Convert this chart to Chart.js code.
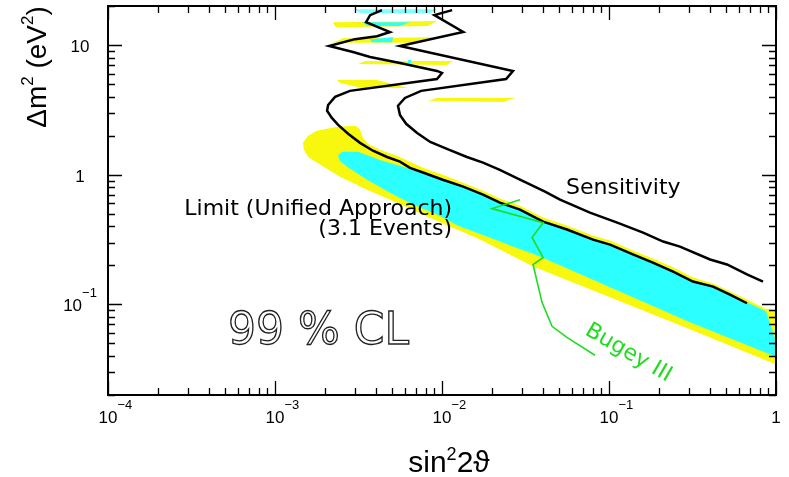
<!DOCTYPE html>
<html>
<head>
<meta charset="utf-8">
<script src="https://cdn.jsdelivr.net/npm/chart.js@4"></script>
<style>
  html, body { margin: 0; padding: 0; background: #fff; }
</style>
</head>
<body>
<canvas id="chart" width="789" height="477"></canvas>
<script>
// axis ranges and labels
const xMin = 1e-4, xMax = 1;
const yMin = 0.02, yMax = 20;
const xTickValues = [1e-4, 1e-3, 1e-2, 1e-1, 1];
const xTickLabels = [['10', '−4'], ['10', '−3'], ['10', '−2'], ['10', '−1'], ['1', '']];
const yTickValues = [10, 1, 0.1];
const yTickLabels = [['10', ''], ['1', ''], ['10', '−1']];

// curves as [sin^2 2theta, dm^2 (eV^2)]
const sensitivity = [
    [0.0115, 18.6], [0.0090, 17.0], [0.0134, 12.6], [0.0056, 9.83], [0.0266, 6.31], [0.0242, 5.47],
    [0.0075, 4.43], [0.0060, 3.91], [0.00545, 3.40], [0.0056, 2.89], [0.0061, 2.47], [0.0071, 2.10],
    [0.0085, 1.79], [0.0107, 1.58], [0.0141, 1.37], [0.0176, 1.24], [0.0222, 1.09], [0.0293, 0.915],
    [0.0414, 0.740], [0.0509, 0.642], [0.0769, 0.510], [0.112, 0.427], [0.160, 0.358], [0.211, 0.305],
    [0.266, 0.279], [0.403, 0.222], [0.509, 0.203], [0.670, 0.170], [0.836, 0.150]
];
const limit = [
    [0.00437, 18.6], [0.00371, 17.0], [0.00351, 15.0], [0.00488, 12.6], [0.00408, 11.7], [0.00301, 11.1],
    [0.00211, 9.83], [0.00293, 8.84], [0.00371, 8.09], [0.0056, 7.27], [0.00933, 6.31], [0.0100, 6.09],
    [0.00933, 5.47], [0.00281, 4.43], [0.00229, 3.98], [0.00208, 3.45], [0.00205, 3.11], [0.00219, 2.74],
    [0.00238, 2.43], [0.00274, 2.07], [0.00323, 1.76], [0.00386, 1.53], [0.00469, 1.37], [0.0056, 1.26],
    [0.00643, 1.13], [0.00769, 1.04], [0.0101, 0.915], [0.0134, 0.809], [0.0176, 0.702], [0.0222, 0.609],
    [0.0293, 0.538], [0.0403, 0.435], [0.0560, 0.378], [0.0802, 0.316], [0.1014, 0.289], [0.139, 0.243],
    [0.183, 0.210], [0.242, 0.179], [0.318, 0.150], [0.420, 0.137], [0.530, 0.119], [0.670, 0.102]
];
const bugey = [
    [0.0293, 0.642], [0.0199, 0.548], [0.0403, 0.427], [0.0346, 0.328], [0.0403, 0.230], [0.0351, 0.203],
    [0.0397, 0.1036], [0.0456, 0.0677], [0.0560, 0.0557], [0.0824, 0.0405]
];
// 99% CL region (yellow) and 90% CL region (cyan), closed outlines
const band99 = [
    [0.00147, 1.76], [0.00158, 2.00], [0.00178, 2.18], [0.00235, 2.34], [0.00305, 2.38], [0.00323, 2.22],
    [0.00336, 1.93], [0.00360, 1.73], [0.00425, 1.56], [0.00538, 1.40], [0.00643, 1.26], [0.00769, 1.13],
    [0.0101, 1.00], [0.0134, 0.868], [0.0176, 0.753], [0.0222, 0.654], [0.0293, 0.577], [0.0403, 0.467],
    [0.0560, 0.405], [0.0802, 0.340], [0.1014, 0.311], [0.139, 0.260], [0.183, 0.226], [0.242, 0.193],
    [0.318, 0.161], [0.420, 0.145], [0.530, 0.126], [0.670, 0.109], [0.859, 0.0931], [1.06, 0.0884],
    [1.06, 0.0334], [0.305, 0.0642], [0.0351, 0.196], [0.0222, 0.265], [0.0169, 0.316], [0.0123, 0.378],
    [0.00813, 0.475], [0.00538, 0.609], [0.00356, 0.767], [0.00245, 0.965], [0.00178, 1.24], [0.00158, 1.37],
    [0.00149, 1.56]
];
const band90 = [
    [0.00238, 1.40], [0.00252, 1.50], [0.00314, 1.50], [0.00425, 1.30], [0.0056, 1.17], [0.00738, 1.04],
    [0.0101, 0.931], [0.0134, 0.823], [0.0176, 0.714], [0.0222, 0.620], [0.0293, 0.548], [0.0403, 0.443],
    [0.0560, 0.384], [0.0802, 0.322], [0.1014, 0.294], [0.139, 0.247], [0.183, 0.214], [0.242, 0.183],
    [0.318, 0.153], [0.420, 0.140], [0.530, 0.122], [0.670, 0.104], [0.871, 0.0884], [1.086, 0.0378],
    [0.305, 0.0727], [0.0386, 0.234], [0.0266, 0.279], [0.0186, 0.334], [0.0128, 0.398], [0.00933, 0.493],
    [0.00670, 0.588], [0.00488, 0.727], [0.00356, 0.915], [0.00270, 1.15], [0.00245, 1.28]
];
// small islands at large dm^2
const island99a = [[0.00222, 15.0], [0.00933, 15.3], [0.00824, 14.0], [0.00232, 13.7]];
const island99b = [[0.00222, 10.4], [0.00255, 11.3], [0.00884, 11.5], [0.00643, 10.4]];
const island99c = [[0.00314, 7.14], [0.00346, 7.53], [0.01164, 7.53], [0.0107, 7.02]];
const island99d = [[0.00235, 5.38], [0.00408, 5.38], [0.00626, 4.67], [0.00332, 4.67], [0.00245, 5.10]];
const island99e = [[0.00824, 3.71], [0.00933, 3.91], [0.0274, 3.91], [0.0232, 3.64]];
const island90a = [[0.00332, 15.0], [0.00643, 15.0], [0.0056, 14.0], [0.0036, 14.0]];
const island90b = [[0.00371, 11.1], [0.00509, 11.5], [0.00502, 10.5], [0.00381, 10.5]];
const island90c = [[0.00626, 7.67], [0.00653, 7.67], [0.00653, 7.27], [0.00626, 7.27]];
const island90top = [[0.00301, 18.9], [0.00933, 18.9], [0.00848, 17.6], [0.00323, 17.6]];

const YELLOW = '#f8f80e';
const CYAN = '#2cffff';
const GREEN = '#1fdc1f';
const SANS = '"Liberation Sans", Arial, sans-serif';
const HERSHEY = '"DejaVu Sans", sans-serif';

const toXY = pts => pts.map(p => ({ x: p[0], y: p[1] }));

function area(points, color, order) {
    return {
        data: toXY(points),
        showLine: true,
        fill: 'shape',
        backgroundColor: color,
        borderColor: 'rgba(0,0,0,0)',
        borderWidth: 1,
        pointRadius: 0,
        order: order
    };
}

function curve(points, color, width) {
    return {
        data: toXY(points),
        showLine: true,
        fill: false,
        borderColor: color,
        borderWidth: width,
        pointRadius: 0,
        order: 1
    };
}

// log tick positions, 1..9 per decade
function logTicks(min, max) {
    const out = [];
    for (let e = Math.floor(Math.log10(min)); e <= Math.ceil(Math.log10(max)); e++) {
        for (let m = 1; m <= 9; m++) {
            const v = m * Math.pow(10, e);
            if (v >= min * 0.999 && v <= max * 1.001) out.push({ v: v, major: m === 1 });
        }
    }
    return out;
}

// draw text made of runs [text, size, rise]
function drawRuns(ctx, parts, x, y, align, family) {
    let w = 0;
    const widths = parts.map(p => {
        ctx.font = p[1] + 'px ' + family;
        const pw = ctx.measureText(p[0]).width;
        w += pw;
        return pw;
    });
    let cx = align === 'center' ? x - w / 2 : align === 'right' ? x - w : x;
    ctx.textAlign = 'left';
    ctx.textBaseline = 'alphabetic';
    parts.forEach((p, i) => {
        ctx.font = p[1] + 'px ' + family;
        ctx.fillText(p[0], cx, y - p[2]);
        cx += widths[i];
    });
}

const framePlugin = {
    id: 'frame',
    afterDatasetsDraw(chart) {
        const { ctx, chartArea: a, scales: { x, y } } = chart;
        ctx.save();
        ctx.strokeStyle = '#000';
        ctx.lineWidth = 1.3;
        ctx.beginPath();
        logTicks(xMin, xMax).forEach(t => {
            const px = Math.round(x.getPixelForValue(t.v)) + 0.5;
            const len = t.major ? 14 : 7;
            ctx.moveTo(px, a.bottom); ctx.lineTo(px, a.bottom - len);
            ctx.moveTo(px, a.top); ctx.lineTo(px, a.top + len);
        });
        logTicks(yMin, yMax).forEach(t => {
            const py = Math.round(y.getPixelForValue(t.v)) + 0.5;
            const len = t.major ? 14 : 7;
            ctx.moveTo(a.left, py); ctx.lineTo(a.left + len, py);
            ctx.moveTo(a.right, py); ctx.lineTo(a.right - len, py);
        });
        ctx.stroke();
        ctx.lineWidth = 2;
        ctx.strokeRect(a.left, a.top, a.right - a.left, a.bottom - a.top);

        ctx.fillStyle = '#000';
        // x tick labels: base centred on the tick, exponent after it
        xTickValues.forEach((v, i) => {
            const px = x.getPixelForValue(v);
            const lab = xTickLabels[i];
            ctx.font = '17px ' + SANS;
            const bw = ctx.measureText(lab[0]).width;
            drawRuns(ctx, [[lab[0], 17, 0], [lab[1], 13, 14]], px - bw / 2, 423, 'left', SANS);
        });
        // y tick labels
        yTickValues.forEach((v, i) => {
            const py = y.getPixelForValue(v);
            const lab = yTickLabels[i];
            drawRuns(ctx, [[lab[0], 17, 0], [lab[1], 13, 14]], 80, py + 7, 'center', SANS);
        });
        // axis titles
        drawRuns(ctx, [['sin', 30, 0], ['2', 18, 12], ['2ϑ', 30, 0]], 449, 472, 'center', SANS);
        ctx.save();
        ctx.translate(46, 67);
        ctx.rotate(-Math.PI / 2);
        drawRuns(ctx, [['Δm', 28, 0], ['2', 17, 13], [' (eV', 28, 0], ['2', 17, 13], [')', 28, 0]], 0, 0, 'center', SANS);
        ctx.restore();

        // annotations
        ctx.font = '22px ' + HERSHEY;
        ctx.textAlign = 'right';
        ctx.fillText('Limit (Unified Approach)', 452, 215);
        ctx.fillText('(3.1 Events)', 452, 235);
        ctx.textAlign = 'left';
        ctx.fillText('Sensitivity', 566, 194);

        ctx.save();
        ctx.fillStyle = GREEN;
        ctx.translate(584, 334);
        ctx.rotate(30 * Math.PI / 180);
        ctx.fillText('Bugey III', 0, 0);
        ctx.restore();

        ctx.font = '44px ' + HERSHEY;
        ctx.lineWidth = 1.3;
        ctx.strokeStyle = '#222';
        ctx.strokeText('99 % CL', 228, 344);
        ctx.restore();
    }
};

new Chart(document.getElementById('chart'), {
    type: 'scatter',
    data: {
        datasets: [
            area(band99, YELLOW, 10),
            area(island99a, YELLOW, 10),
            area(island99b, YELLOW, 10),
            area(island99c, YELLOW, 10),
            area(island99d, YELLOW, 10),
            area(island99e, YELLOW, 10),
            area(band90, CYAN, 8),
            area(island90a, CYAN, 8),
            area(island90b, CYAN, 8),
            area(island90c, CYAN, 8),
            area(island90top, 'rgba(44,255,255,0.6)', 8),
            curve(bugey, GREEN, 1.6),
            curve(limit, '#000', 2.5),
            curve(sensitivity, '#000', 2.5)
        ]
    },
    options: {
        responsive: false,
        animation: false,
        layout: { padding: { left: 108, right: 13, top: 6, bottom: 82 } },
        plugins: { legend: { display: false }, tooltip: { enabled: false } },
        scales: {
            x: { type: 'logarithmic', min: xMin, max: xMax, display: false },
            y: { type: 'logarithmic', min: yMin, max: yMax, display: false }
        }
    },
    plugins: [framePlugin]
});
</script>
</body>
</html>
